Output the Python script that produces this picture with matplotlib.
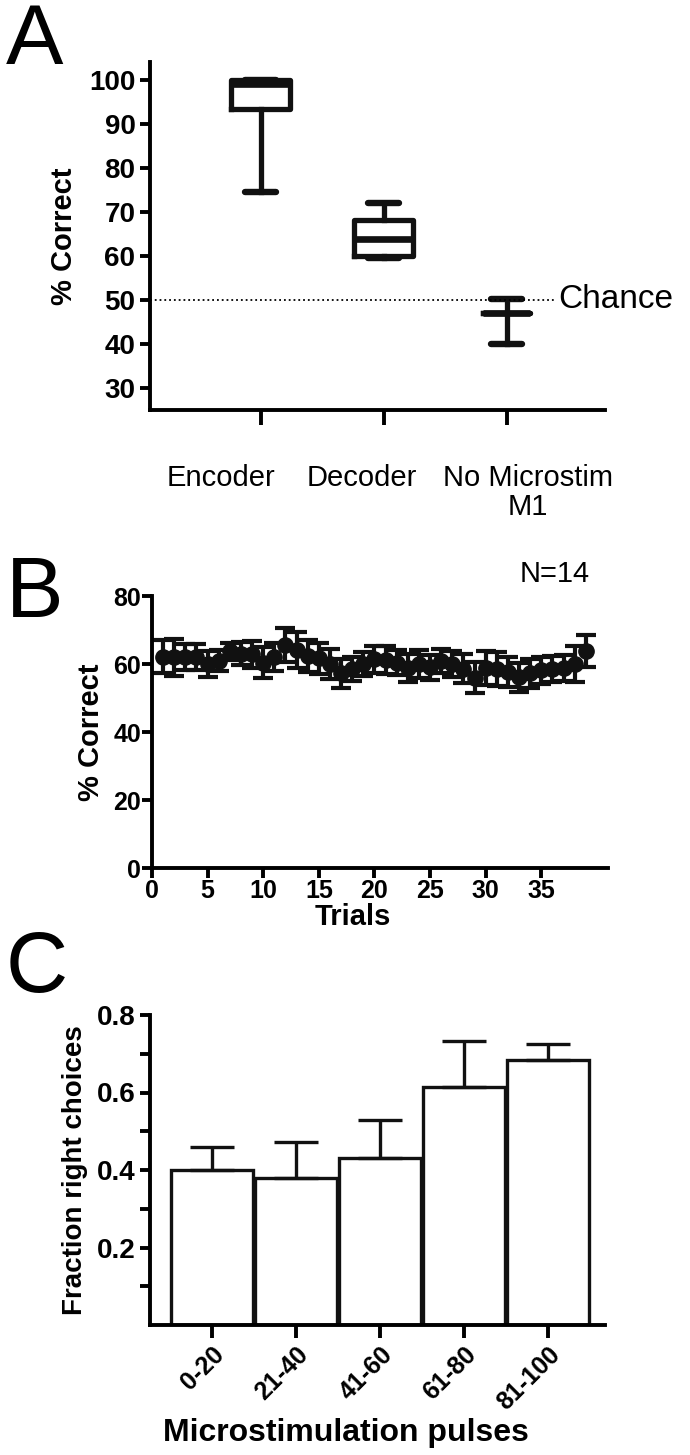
import matplotlib
matplotlib.use('Agg')
import matplotlib.pyplot as plt
import matplotlib.transforms as mtransforms
import numpy as np

plt.rcParams['font.family'] = ['Liberation Sans', 'DejaVu Sans']

# panel A: box plot summary
groups = ['Encoder', 'Decoder', 'No Microstim\nM1']
box_med = [99.0, 63.8, 47.0]
box_q1 = [93.3, 60.0, 47.0]
box_q3 = [100.0, 68.2, 47.0]
box_lo = [74.5, 59.6, 40.0]
box_hi = [100.0, 72.0, 50.2]
chance = 50

# panel B: percent correct per trial
trials = list(range(1, 40))
pct = [62.2, 62.0, 62.0, 62.0, 60.0, 61.0, 63.7, 63.0, 62.9, 60.4,
       62.0, 65.7, 64.0, 62.3, 61.7, 60.0, 57.3, 58.6, 60.0, 61.4,
       61.3, 60.4, 58.8, 60.0, 59.0, 60.8, 60.0, 58.6, 56.0, 58.8,
       58.6, 57.7, 56.1, 57.3, 58.2, 58.6, 58.8, 60.0, 63.9]
pct_err = [4.9, 5.5, 3.8, 3.8, 3.8, 3.2, 2.6, 3.4, 4.0, 4.5,
           4.1, 5.0, 5.3, 4.7, 4.6, 4.4, 4.3, 3.5, 3.6, 4.0,
           4.1, 3.7, 4.1, 4.1, 3.6, 3.5, 3.7, 4.3, 4.6, 4.9,
           5.0, 4.5, 4.2, 4.3, 4.0, 3.8, 3.8, 5.3, 4.7]

# panel C: fraction right choices
pulses = ['0-20', '21-40', '41-60', '61-80', '81-100']
frac = [0.40, 0.38, 0.43, 0.615, 0.684]
frac_err = [0.06, 0.093, 0.10, 0.117, 0.041]

W, H = 690, 1455
fig = plt.figure(figsize=(W / 100, H / 100), dpi=100)


def box(left, top, right, bottom):
    return [left / W, 1 - bottom / H, (right - left) / W, (bottom - top) / H]


def style(ax):
    for s in ['top', 'right']:
        ax.spines[s].set_visible(False)
    for s in ['left', 'bottom']:
        ax.spines[s].set_linewidth(2.8)
    ax.tick_params(width=2.8, length=7, labelsize=20)
    for lab in ax.get_yticklabels() + ax.get_xticklabels():
        lab.set_fontweight('bold')


# ---- A ----
axA = fig.add_axes(box(150, 62, 605, 410))
stats = []
for i in range(3):
    stats.append({'med': box_med[i], 'q1': box_q1[i], 'q3': box_q3[i],
                  'whislo': box_lo[i], 'whishi': box_hi[i], 'label': ''})
lw = 3.8
axA.bxp(stats, positions=[1, 2, 3], widths=[0.48, 0.48, 0.38], capwidths=[0.25, 0.25, 0.25],
        showfliers=False,
        boxprops=dict(linewidth=lw, color='#111111'),
        medianprops=dict(linewidth=lw + 1, color='#111111'),
        whiskerprops=dict(linewidth=lw, color='#111111'),
        capprops=dict(linewidth=lw + 0.8, color='#111111', solid_capstyle='round'))
axA.plot([0.1, 3.4], [chance, chance], ':', color='k', linewidth=1.3)
axA.text(3.42, chance, 'Chance', fontsize=24, va='center', ha='left')
axA.set_xlim(0.1, 3.8)
axA.set_ylim(25, 104)
axA.set_yticks([30, 40, 50, 60, 70, 80, 90, 100])
axA.set_xticks([1, 2, 3])
axA.set_xticklabels(['', '', ''])
axA.set_ylabel('% Correct', fontsize=21, fontweight='bold', labelpad=8)
style(axA)
axA.tick_params(axis='x', length=11)
# category labels sit a little left of their ticks in the original
trans = mtransforms.blended_transform_factory(axA.transData, axA.transAxes)
label_x = [0.68, 1.82, 3.17]
for g, lx in zip(groups, label_x):
    axA.text(lx, -0.155, g, transform=trans, fontsize=21, ha='center', va='top',
             multialignment='center', linespacing=1.05)
fig.text(6 / W, 1 - 2 / H, 'A', fontsize=62, va='top', ha='left')

# ---- B ----
axB = fig.add_axes(box(152, 596, 608, 868))
axB.errorbar(trials, pct, yerr=pct_err, fmt='o', color='#111111', markersize=11,
             elinewidth=3, capsize=7.5, capthick=3)
axB.set_xlim(0, 41)
axB.set_ylim(0, 80)
axB.set_xticks([0, 5, 10, 15, 20, 25, 30, 35])
axB.set_yticks([0, 20, 40, 60, 80])
axB.set_ylabel('% Correct', fontsize=21, fontweight='bold', labelpad=6)
axB.text(0.96, 1.03, 'N=14', transform=axB.transAxes, fontsize=21, ha='right', va='bottom')
style(axB)
axB.tick_params(labelsize=18, pad=1)
axB.set_xlabel('Trials', fontsize=21, fontweight='bold')
axB.xaxis.set_label_coords(0.44, -0.13)
fig.text(6 / W, 1 - 555 / H, 'B', fontsize=62, va='top', ha='left')

# ---- C ----
axC = fig.add_axes(box(150, 1015, 605, 1325))
x = np.arange(len(pulses))
axC.bar(x, frac, width=0.98, color='white', edgecolor='#111111', linewidth=2.4,
        yerr=[[0] * len(frac), frac_err], capsize=16,
        error_kw=dict(elinewidth=2.4, capthick=2.4, ecolor='#111111'))
axC.set_xlim(-0.74, 4.68)
axC.set_ylim(0, 0.8)
axC.set_yticks([0.1, 0.2, 0.3, 0.4, 0.5, 0.6, 0.7, 0.8])
axC.set_yticklabels(['', '0.2', '', '0.4', '', '0.6', '', '0.8'])
axC.set_xticks(x)
axC.set_xticklabels(pulses, rotation=45, ha='right', rotation_mode='anchor')
axC.set_xlabel('Microstimulation pulses', fontsize=23, fontweight='bold')
axC.xaxis.set_label_coords(0.43, -0.3)
axC.set_ylabel('Fraction right choices', fontsize=20, fontweight='bold', labelpad=6)
style(axC)
axC.tick_params(axis='x', labelsize=18, length=9)
axC.tick_params(axis='y', labelsize=20)
fig.text(6 / W, 1 - 930 / H, 'C', fontsize=62, va='top', ha='left')

fig.savefig('out.png', dpi=100)
